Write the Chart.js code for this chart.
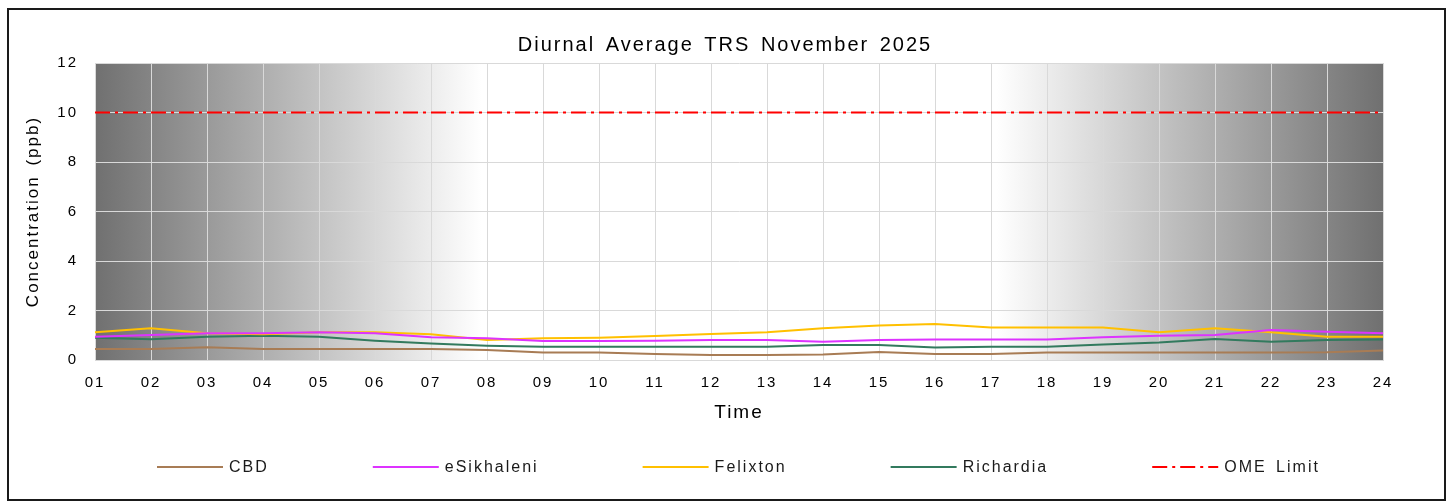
<!DOCTYPE html>
<html>
<head>
<meta charset="utf-8">
<script src="https://cdn.jsdelivr.net/npm/chart.js@4.4.1/dist/chart.umd.min.js"></script>
<style>
  html, body { margin: 0; padding: 0; background: #ffffff; }
  #frame { position: absolute; left: 7px; top: 8px; width: 1439px; height: 493px; box-sizing: border-box; border: 2px solid #1a1a1a; }
  #c { position: absolute; left: 0; top: 0; }
</style>
</head>
<body>
<div id="frame"></div>
<canvas id="c" width="1450" height="504"></canvas>
<script>
const hours = ['01','02','03','04','05','06','07','08','09','10','11','12','13','14','15','16','17','18','19','20','21','22','23','24'];
const cbd = [0.44,0.44,0.52,0.44,0.44,0.44,0.44,0.40,0.30,0.30,0.24,0.20,0.20,0.22,0.32,0.24,0.24,0.30,0.30,0.30,0.30,0.30,0.31,0.38];
const eSikhaleni = [0.94,1.01,1.08,1.08,1.12,1.08,0.92,0.88,0.77,0.77,0.78,0.81,0.81,0.74,0.81,0.83,0.83,0.83,0.92,0.98,1.01,1.21,1.14,1.08];
const felixton = [1.12,1.28,1.08,1.04,1.12,1.12,1.04,0.81,0.88,0.90,0.97,1.05,1.12,1.28,1.39,1.45,1.31,1.31,1.31,1.12,1.28,1.12,0.94,0.94];
const richardia = [0.90,0.84,0.94,0.98,0.94,0.78,0.67,0.58,0.54,0.54,0.54,0.54,0.54,0.61,0.61,0.51,0.54,0.54,0.63,0.71,0.85,0.74,0.81,0.83];
const omeLimit = [10,10,10,10,10,10,10,10,10,10,10,10,10,10,10,10,10,10,10,10,10,10,10,10];
const yTicks = [0,2,4,6,8,10,12];

const FONT = "'Liberation Sans', Arial, sans-serif";
const LS = '2px';
const WS = '3px';

function applySpacing(ctx) {
  ctx.letterSpacing = LS;
  ctx.wordSpacing = WS;
}

const spacingPlugin = {
  id: 'spacing',
  beforeInit(chart) { applySpacing(chart.ctx); },
  beforeUpdate(chart) { applySpacing(chart.ctx); },
  beforeLayout(chart) { applySpacing(chart.ctx); },
  afterLayout(chart) {
    // centre the title across the whole canvas, as in the reference
    const tb = chart.titleBlock;
    if (tb) { tb.left = 0; tb.right = chart.width; tb.width = chart.width; }
  },
  beforeDraw(chart) { applySpacing(chart.ctx); }
};

const bgPlugin = {
  id: 'bgShade',
  beforeDraw(chart) {
    const {ctx, chartArea: a} = chart;
    const g = ctx.createLinearGradient(a.left, 0, a.right, 0);
    g.addColorStop(0, '#707070');
    g.addColorStop(0.30, '#ffffff');
    g.addColorStop(0.70, '#ffffff');
    g.addColorStop(1, '#707070');
    ctx.save();
    ctx.fillStyle = g;
    ctx.fillRect(a.left, a.top, a.right - a.left, a.bottom - a.top);
    ctx.restore();
  }
};

const legendPlugin = {
  id: 'customLegend',
  afterDraw(chart) {
    const ctx = chart.ctx;
    const y = 467;
    const lineW = 66, textGap = 6, itemGap = 104;
    let x = 157;
    ctx.save();
    applySpacing(ctx);
    ctx.font = '16px ' + FONT;
    ctx.textBaseline = 'middle';
    ctx.textAlign = 'left';
    chart.data.datasets.forEach(ds => {
      ctx.beginPath();
      ctx.setLineDash(ds.borderDash || []);
      ctx.strokeStyle = ds.borderColor;
      ctx.lineWidth = 2;
      ctx.moveTo(x, y);
      ctx.lineTo(x + lineW, y);
      ctx.stroke();
      ctx.setLineDash([]);
      ctx.fillStyle = '#1a1a1a';
      ctx.fillText(ds.label, x + lineW + textGap, y + 1);
      x += lineW + textGap + ctx.measureText(ds.label).width + itemGap;
    });
    ctx.restore();
  }
};

const mk = (label, data, color, extra) => Object.assign({
  label, data, borderColor: color, backgroundColor: color,
  borderWidth: 2, pointRadius: 0, pointHoverRadius: 0, tension: 0, fill: false
}, extra || {});

new Chart(document.getElementById('c'), {
  type: 'line',
  data: {
    labels: hours,
    datasets: [
      mk('CBD', cbd, '#a87c55'),
      mk('eSikhaleni', eSikhaleni, '#dd33ff'),
      mk('Felixton', felixton, '#ffc000'),
      mk('Richardia', richardia, '#327a5e'),
      mk('OME Limit', omeLimit, '#ff0000', {borderDash: [15,5,3,5]})
    ]
  },
  options: {
    responsive: false,
    animation: false,
    devicePixelRatio: 1,
    layout: { padding: { left: 10, right: 67, top: 20, bottom: 80 } },
    plugins: {
      legend: { display: false },
      tooltip: { enabled: false },
      title: {
        display: true,
        text: 'Diurnal Average TRS November 2025',
        color: '#000000',
        font: { family: FONT, size: 20, weight: 'normal', lineHeight: 1.2 },
        padding: { top: 13, bottom: 6 }
      }
    },
    scales: {
      x: {
        type: 'category',
        offset: false,
        grid: { color: '#d9d9d9', lineWidth: 1, drawTicks: false, offset: false },
        border: { display: true, color: '#d9d9d9' },
        ticks: { color: '#000000', font: { family: FONT, size: 15 }, padding: 14, maxRotation: 0, autoSkip: false },
        title: { display: true, text: 'Time', color: '#000000', font: { family: FONT, size: 19 }, padding: { top: 0, bottom: 0 } },
        afterFit(scale) { scale.height = 64; }
      },
      y: {
        min: 0, max: 12,
        afterBuildTicks(scale) { scale.ticks = yTicks.map(v => ({ value: v })); },
        grid: { color: '#d9d9d9', lineWidth: 1, drawTicks: false },
        border: { display: true, color: '#d9d9d9' },
        ticks: { color: '#000000', font: { family: FONT, size: 15 }, padding: 17 },
        title: { display: true, text: 'Concentration (ppb)', color: '#000000', font: { family: FONT, size: 17 }, padding: { top: 13, bottom: 0 } },
        afterFit(scale) { scale.width = 85; }
      }
    }
  },
  plugins: [spacingPlugin, bgPlugin, legendPlugin]
});
</script>
</body>
</html>
